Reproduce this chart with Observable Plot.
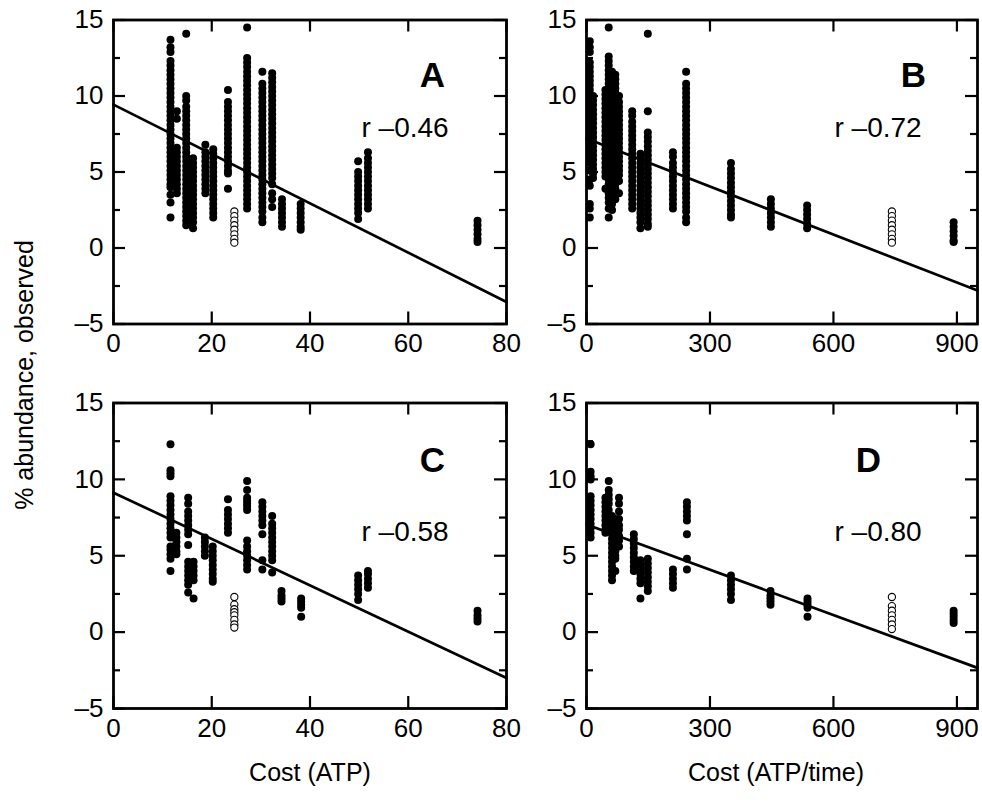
<!DOCTYPE html>
<html><head><meta charset="utf-8">
<script src="https://cdn.jsdelivr.net/npm/d3@7"></script>
<script src="https://cdn.jsdelivr.net/npm/@observablehq/plot@0.6"></script>
<style>
body{margin:0;background:#fff;}
#wrap{position:relative;width:982px;height:805px;font-family:"Liberation Sans",Arial,Helvetica,sans-serif;color:#000;}
.panel{position:absolute;}
.lab{position:absolute;font-size:25px;line-height:1;white-space:nowrap;}
</style></head><body><div id="wrap"></div>
<script>
// ---------- data ----------
const panelLetters = ["A", "B", "C", "D"];
const rLabels = ["r –0.46", "r –0.72", "r –0.58", "r –0.80"];
const xTitleATP = "Cost (ATP)";
const xTitleTime = "Cost (ATP/time)";
const yTitle = "% abundance, observed";
const xTicksATP = [0, 20, 40, 60, 80];
const xTicksTime = [0, 300, 600, 900];
const yMajorTicks = [15, 10, 5, 0, -5];
const yMinorTicks = [12.5, 7.5, 2.5, -2.5];

// columns: [cost, [observed % abundance values]]
const colsA = [
  [11.6, [13.7,13.2,12.9,12.3,12.0,11.7,11.4,11.1,10.8,10.5,10.2,9.9,9.6,9.3,9.0,8.7,8.4,8.1,7.8,7.5,7.2,6.9,6.6,6.3,6.0,5.7,5.4,5.1,4.8,4.5,4.2,4.0,3.5,3.0,2.0]],
  [12.9, [9.0,8.5,6.6,6.3,6.0,5.7,5.4,5.1,4.8,4.5,4.2,3.9,3.6]],
  [14.8, [14.1,10.0,9.7,9.3,9.0,8.7,8.4,8.1,7.8,7.5,7.2,6.9,6.6,6.3,6.0,5.7,5.4,5.1,4.8,4.5,4.2,3.9,3.6,3.3,3.0,2.7,2.4,2.1,1.8,1.5]],
  [16.2, [5.9,5.6,5.3,5.0,4.7,4.4,4.1,3.8,3.5,3.2,2.9,2.6,2.3,2.0,1.7,1.3]],
  [18.7, [6.8,6.3,6.0,5.7,5.4,5.1,4.8,4.5,4.2,3.9,3.6]],
  [20.3, [6.5,6.2,5.9,5.6,5.3,5.0,4.7,4.4,4.1,3.8,3.5,3.2,2.9,2.6,2.3,2.0]],
  [23.3, [10.4,9.6,9.3,9.0,8.7,8.4,8.1,7.8,7.5,7.2,6.9,6.6,6.3,6.0,5.7,5.4,5.1,4.9,3.9]],
  [27.2, [14.5,12.5,12.2,11.9,11.6,11.3,11.0,10.7,10.4,10.1,9.8,9.5,9.2,8.9,8.6,8.3,8.0,7.7,7.4,7.1,6.8,6.5,6.2,5.9,5.6,5.3,5.0,4.7,4.4,4.1,3.8,3.5,3.2,2.9,2.6]],
  [30.3, [11.6,10.8,10.5,10.2,9.9,9.6,9.3,9.0,8.7,8.4,8.1,7.8,7.5,7.2,6.9,6.6,6.3,6.0,5.7,5.4,5.1,4.8,4.5,4.2,3.9,3.6,3.3,3.0,2.7,2.4,2.0,1.7]],
  [32.3, [11.5,11.2,10.9,10.6,10.3,10.0,9.7,9.4,9.1,8.8,8.5,8.2,7.9,7.6,7.3,7.0,6.7,6.4,6.1,5.8,5.5,5.2,4.9,4.6,4.2,3.6,3.2,2.7]],
  [34.3, [3.2,2.9,2.6,2.3,2.0,1.7,1.4]],
  [38.1, [2.9,2.6,2.3,2.0,1.7,1.4,1.2]],
  [49.8, [5.7,5.0,4.7,4.4,4.1,3.8,3.5,3.2,2.9,2.6,2.3,1.9]],
  [51.8, [6.3,5.9,5.6,5.3,5.0,4.7,4.4,4.1,3.8,3.5,3.2,2.9,2.6]],
  [74.1, [1.8,1.5,1.2,0.9,0.6,0.4]]
];
const openA = [[24.6, [2.4,2.1,1.8,1.5,1.2,0.9,0.6,0.35]]];

const colsB = [
  [8, [13.6,13.2,12.9,12.2,11.9,11.6,11.3,11.0,10.7,10.4,10.1,9.8,9.5,9.2,8.9,8.6,8.3,8.0,7.7,7.4,7.1,6.8,6.5,6.2,5.9,5.6,5.1,4.5,4.1,2.9,2.6,2.0]],
  [16, [10.0,9.7,9.4,9.1,8.8,8.5,8.2,7.9,7.6,7.3,7.0,6.7,6.4,6.1,5.8,5.5,5.2,4.9,4.6]],
  [46, [10.4,10.1,9.8,9.5,9.2,8.9,8.6,8.3,8.0,7.7,7.4,7.1,6.8,6.5,6.2,5.9,5.6,5.3,5.0,4.7,3.9]],
  [54, [14.5,12.6,12.3,12.0,11.7,11.4,11.1,10.8,10.5,10.2,9.9,9.6,9.3,9.0,8.7,8.4,8.1,7.8,7.5,7.2,6.9,6.6,6.3,6.0,5.7,5.4,5.1,4.8,4.5,4.2,3.9,3.6,3.3,3.0,2.6,2.0]],
  [62, [11.6,11.3,11.0,10.7,10.4,10.1,9.8,9.5,9.2,8.9,8.6,8.3,8.0,7.7,7.4,7.1,6.8,6.5,6.2,5.9,5.6,5.3,5.0,4.7,4.4,4.1,3.8,3.5,3.2,2.9,2.5]],
  [70, [11.4,11.1,10.8,10.5,10.2,9.9,9.6,9.3,9.0,8.7,8.4,8.1,7.8,7.5,7.2,6.9,6.6,6.3,6.0,5.7,5.4,5.1,4.8,4.5,4.2,3.9,3.6,3.2]],
  [79, [10.0,9.6,9.3,9.0,8.7,8.4,8.1,7.8,7.5,7.2,6.9,6.6,6.3,6.0,5.7,5.4,5.1,4.8,4.4,3.6]],
  [111, [9.0,8.7,8.3,8.0,7.7,7.4,7.1,6.8,6.5,6.2,5.9,5.6,5.3,5.0,4.7,4.4,4.1,3.8,3.5,3.2,2.9,2.6]],
  [131, [6.2,5.9,5.6,5.3,5.0,4.7,4.4,4.1,3.8,3.5,3.2,2.9,2.6,2.3,2.0,1.7,1.3]],
  [149, [14.1,9.0,7.6,7.3,7.0,6.7,6.4,6.1,5.8,5.5,5.2,4.9,4.6,4.3,4.0,3.7,3.4,3.1,2.8,2.5,2.2,1.9,1.6,1.4]],
  [210, [6.3,6.0,5.6,5.3,5.0,4.7,4.4,4.1,3.8,3.5,3.2,2.9,2.6]],
  [242, [11.6,10.8,10.5,10.2,9.9,9.6,9.3,9.0,8.7,8.4,8.1,7.8,7.5,7.2,6.9,6.6,6.3,6.0,5.7,5.4,5.1,4.8,4.5,4.2,3.9,3.6,3.3,3.0,2.7,2.4,2.0,1.7]],
  [351, [5.6,5.2,4.9,4.6,4.3,4.0,3.7,3.4,3.1,2.8,2.5,2.2,2.0]],
  [448, [3.2,2.9,2.6,2.3,2.0,1.7,1.4]],
  [536, [2.8,2.5,2.2,1.9,1.6,1.3]],
  [892, [1.7,1.4,1.1,0.8,0.5,0.4]]
];
const openB = [[742, [2.4,2.1,1.8,1.5,1.2,0.9,0.6,0.35]]];

const colsC = [
  [11.6, [12.3,10.6,10.4,10.2,8.9,8.6,8.3,8.0,7.7,7.4,7.1,6.8,6.5,6.2,5.6,5.4,5.1,4.8,4.0]],
  [12.8, [6.5,6.2,5.9,5.6,5.3,5.1]],
  [15.2, [8.8,8.4,7.9,7.6,7.3,7.0,6.7,6.4,5.7,4.6,4.3,4.0,3.7,3.4,3.1,2.6]],
  [16.3, [4.6,4.3,4.0,3.7,3.4,2.2]],
  [18.6, [6.2,5.9,5.6,5.3,5.0]],
  [20.2, [5.6,5.3,5.0,4.7,4.4,4.1,3.8,3.5,3.3]],
  [23.3, [8.7,8.0,7.7,7.4,7.1,6.8,6.5]],
  [27.2, [9.9,9.3,8.8,8.6,8.4,8.2,8.0,6.0,5.6,5.3,5.0,4.7,4.4,4.1]],
  [30.3, [8.5,8.2,7.9,7.6,7.3,7.0,6.4,4.7,4.1]],
  [32.3, [7.6,7.1,6.8,6.5,6.2,5.9,5.6,5.3,5.0,4.7,3.9]],
  [34.2, [2.7,2.4,2.2,2.0]],
  [38.2, [2.2,2.0,1.8,1.6,1.0]],
  [49.8, [3.7,3.4,3.1,2.8,2.5,2.1]],
  [51.8, [4.0,3.8,3.5,3.2,2.9]],
  [74.1, [1.4,1.1,0.9,0.7]]
];
const openC = [[24.6, [2.3,1.8,1.5,1.3,1.1,0.8,0.5,0.3]]];

const colsD = [
  [10, [12.3,10.5,10.2,10.0,8.9,8.6,8.3,8.0,7.7,7.4,7.1,6.8,6.5,6.2]],
  [46, [8.8,8.5,8.2,7.9,7.6,7.3,7.0,6.7,6.5]],
  [54, [9.9,9.3,9.0,8.7,8.4,8.0]],
  [62, [7.6,7.3,7.0,6.7,6.4,6.1,5.8,5.5,5.2,4.9,4.6,4.3,4.0,3.7,3.4]],
  [70, [7.4,7.1,6.8,6.5,6.2,5.9,5.6,5.3,5.0,4.8,4.0]],
  [79, [8.8,8.4,7.9,7.4,7.0,6.7,6.3,6.0,5.6]],
  [115, [6.4,6.1,5.8,5.5,5.2,4.9,4.6,4.3,4.0]],
  [131, [4.7,4.4,4.1,3.8,3.5,3.2,2.2]],
  [149, [4.8,4.5,4.2,3.9,3.6,3.3,3.0,2.7]],
  [210, [4.1,3.8,3.5,3.2,2.9]],
  [244, [8.5,8.2,7.9,7.6,7.3,6.4,4.8,4.1]],
  [351, [3.7,3.4,3.1,2.8,2.5,2.1]],
  [447, [2.7,2.4,2.2,2.0,1.8]],
  [537, [2.2,2.0,1.8,1.6,1.0]],
  [892, [1.4,1.2,1.0,0.8,0.6]]
];
const openD = [[742, [2.3,1.7,1.4,1.1,0.8,0.5,0.2]]];

// regression line end points [cost, % abundance]
const fitA = [[0, 9.43], [80, -3.55]];
const fitB = [[0, 7.2], [950, -2.8]];
const fitC = [[0, 9.13], [80, -3.0]];
const fitD = [[0, 7.05], [950, -2.34]];

// ---------- drawing ----------
const FONT = "Liberation Sans, Arial, Helvetica, sans-serif";
const fmt = d => d < 0 ? "–" + (-d) : String(d);
const flat = cols => cols.flatMap(([x, ys]) => ys.map(y => ({x, y})));
const TICK_FS = 26;

// inward ticks drawn as rules inset from the frame (lengths in pixels)
function inwardTicks(pw, ph, xTicks) {
  const st = {stroke: "#000", strokeWidth: 2.2};
  const MAJ = 12, MIN = 7;
  return [
    Plot.ruleX(xTicks, {...st, x: d => d, insetTop: ph - MAJ}),
    Plot.ruleX(xTicks, {...st, x: d => d, insetBottom: ph - MAJ}),
    Plot.ruleY(yMajorTicks, {...st, y: d => d, insetRight: pw - MAJ}),
    Plot.ruleY(yMajorTicks, {...st, y: d => d, insetLeft: pw - MAJ}),
    Plot.ruleY(yMinorTicks, {...st, y: d => d, insetRight: pw - MIN}),
    Plot.ruleY(yMinorTicks, {...st, y: d => d, insetLeft: pw - MIN})
  ];
}

function panel(p) {
  const pw = p.W - p.ml - p.mr, ph = p.H - p.mt - p.mb;
  return Plot.plot({
    width: p.W, height: p.H,
    marginLeft: p.ml, marginRight: p.mr, marginTop: p.mt, marginBottom: p.mb,
    style: {fontFamily: FONT, fontSize: TICK_FS + "px", color: "#000", background: "transparent", overflow: "visible"},
    x: {domain: p.xDomain},
    y: {domain: [-5, 15]},
    marks: [
      Plot.dot(flat(p.cols), {x: "x", y: "y", r: 4, fill: "#000", stroke: "none"}),
      Plot.dot(flat(p.open), {x: "x", y: "y", r: 3.6, fill: "#fff", stroke: "#000", strokeWidth: 1.1}),
      Plot.line(p.fit, {x: d => d[0], y: d => d[1], stroke: "#000", strokeWidth: 2.7}),
      Plot.axisX(p.xTicks, {anchor: "bottom", tickSize: 0, tickPadding: 10, tickFormat: fmt, fontSize: TICK_FS, fill: "#000", label: null}),
      Plot.axisY(yMajorTicks, {anchor: "left", tickSize: 0, tickPadding: 10, tickFormat: fmt, fontSize: TICK_FS, fill: "#000", label: null}),
      ...inwardTicks(pw, ph, p.xTicks),
      Plot.frame({stroke: "#000", strokeWidth: 2.8}),
      Plot.text([p.letter], {frameAnchor: "top-right", dx: p.letterDx, dy: p.letterDy, text: d => d, fontSize: 35, fontWeight: "bold", textAnchor: "middle", lineAnchor: "middle", fill: "#000"}),
      Plot.text([p.r], {frameAnchor: "top-right", dx: p.rDx, dy: p.rDy, text: d => d, fontSize: 28, textAnchor: "start", lineAnchor: "middle", fill: "#000"})
    ]
  });
}

const wrap = document.getElementById("wrap");
const specs = [
  {left: 0, top: 0, W: 520, H: 370, ml: 113, mr: 14, mt: 19.5, mb: 46.5, xDomain: [0, 80], xTicks: xTicksATP,
   cols: colsA, open: openA, fit: fitA, letter: panelLetters[0], r: rLabels[0], letterDx: -74, letterDy: 55.5, rDx: -145, rDy: 108.5},
  {left: 520, top: 0, W: 462, H: 370, ml: 66, mr: 5, mt: 19.5, mb: 46.5, xDomain: [0, 950], xTicks: xTicksTime,
   cols: colsB, open: openB, fit: fitB, letter: panelLetters[1], r: rLabels[1], letterDx: -64, letterDy: 55.5, rDx: -143, rDy: 108.5},
  {left: 0, top: 370, W: 520, H: 435, ml: 113, mr: 14, mt: 32.5, mb: 97, xDomain: [0, 80], xTicks: xTicksATP,
   cols: colsC, open: openC, fit: fitC, letter: panelLetters[2], r: rLabels[2], letterDx: -74, letterDy: 57.5, rDx: -145, rDy: 129},
  {left: 520, top: 370, W: 462, H: 435, ml: 66, mr: 5, mt: 32.5, mb: 97, xDomain: [0, 950], xTicks: xTicksTime,
   cols: colsD, open: openD, fit: fitD, letter: panelLetters[3], r: rLabels[3], letterDx: -109, letterDy: 57.5, rDx: -143, rDy: 129}
];
for (const s of specs) {
  const svg = panel(s);
  svg.classList.add("panel");
  svg.style.left = s.left + "px";
  svg.style.top = s.top + "px";
  wrap.appendChild(svg);
}

function label(text, x, y, rotate) {
  const d = document.createElement("div");
  d.className = "lab";
  d.textContent = text;
  d.style.left = x + "px";
  d.style.top = y + "px";
  d.style.transform = "translate(-50%,-50%)" + (rotate ? " rotate(-90deg)" : "");
  wrap.appendChild(d);
}
label(xTitleATP, 310, 772, false);
label(xTitleTime, 776, 772, false);
label(yTitle, 24, 375, true);
</script></body></html>
